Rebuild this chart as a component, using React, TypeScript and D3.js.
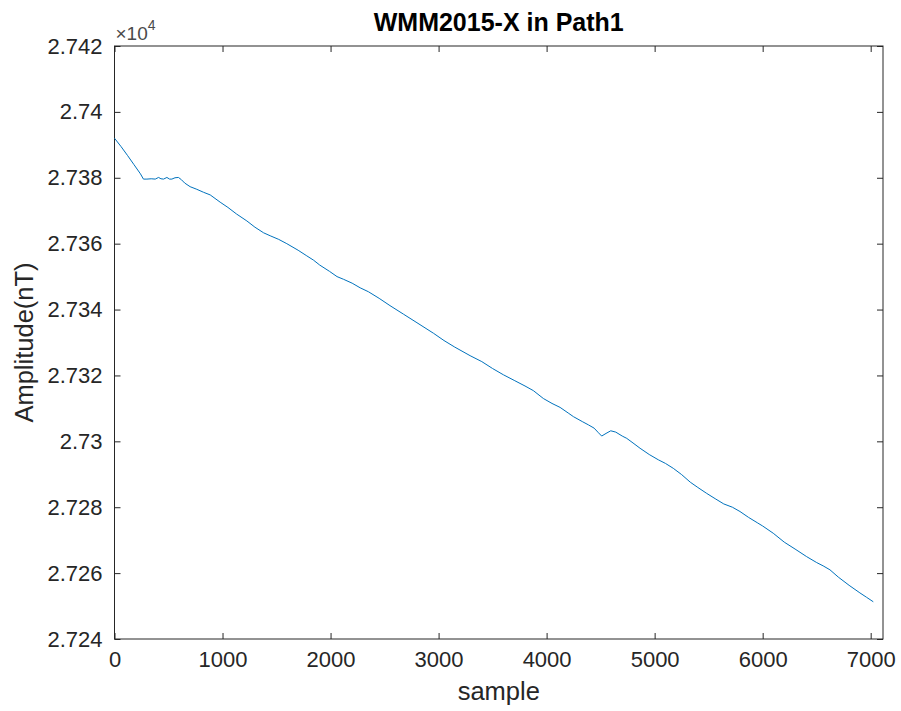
import React, { useEffect, useRef } from "react";
import * as d3 from "d3";

// samples and amplitude (nT)
const samples = [
  0, 60, 120, 180, 240, 268, 300, 340, 377, 408, 430, 454, 485, 510, 531, 560,
  592, 620, 650, 700, 762, 824, 886, 978, 1050, 1130, 1225, 1300, 1380, 1441,
  1520, 1595, 1700, 1780, 1842, 1900, 1990, 2060, 2119, 2200, 2274, 2351, 2450,
  2550, 2675, 2800, 2953, 3050, 3150, 3292, 3400, 3500, 3600, 3700, 3800, 3877,
  3970, 4050, 4125, 4200, 4248, 4330, 4387, 4440, 4480, 4510, 4550, 4594, 4640,
  4700, 4742, 4800, 4865, 4950, 5034, 5100, 5173, 5250, 5330, 5400, 5482, 5560,
  5640, 5720, 5790, 5870, 5950, 6000, 6098, 6200, 6300, 6407, 6500, 6560, 6623,
  6700, 6800, 6900, 6960, 7024,
];
const amplitude = [
  27392.0, 27389.5, 27386.8, 27384.0, 27381.2, 27379.6, 27379.6, 27379.7,
  27379.6, 27380.1, 27379.7, 27379.6, 27380.1, 27379.6, 27379.6, 27380.0,
  27380.1, 27379.4, 27378.4, 27377.3, 27376.5, 27375.6, 27374.8, 27372.6,
  27371.0, 27369.0, 27366.9, 27365.0, 27363.3, 27362.4, 27361.3, 27360.0,
  27358.0, 27356.3, 27355.0, 27353.5, 27351.6, 27350.0, 27349.2, 27348.0,
  27346.6, 27345.4, 27343.4, 27341.2, 27338.6, 27336.0, 27332.8, 27330.6,
  27328.6, 27326.0, 27324.2, 27322.1, 27320.2, 27318.5, 27316.8, 27315.4,
  27313.0, 27311.5, 27310.3, 27308.6, 27307.5, 27306.0, 27305.0, 27304.0,
  27302.6, 27301.6, 27302.4, 27303.2, 27302.8, 27301.6, 27300.9, 27299.5,
  27297.9, 27296.0, 27294.4, 27293.3, 27291.8, 27289.9, 27287.6, 27286.0,
  27284.2, 27282.6, 27281.0, 27280.0, 27278.7, 27276.9, 27275.3, 27274.3,
  27272.1, 27269.4, 27267.3, 27265.0, 27263.2, 27262.2, 27261.0, 27258.8,
  27256.3, 27254.0, 27252.7, 27251.3,
];
const xTicks = [0, 1000, 2000, 3000, 4000, 5000, 6000, 7000];
const yTicks = [27240, 27260, 27280, 27300, 27320, 27340, 27360, 27380, 27400, 27420];
const xDomain = [0, 7114];
const yDomain = [27240, 27420];

const App = () => {
  const ref = useRef<SVGSVGElement>(null);

  useEffect(() => {
    const left = 114.5, right = 883, top = 46, bottom = 639;
    const ink = "#262626";
    const font = "'Liberation Sans', Arial, Helvetica, sans-serif";

    const svg = d3.select(ref.current);
    svg.selectAll("*").remove();

    const x = d3.scaleLinear().domain(xDomain).range([left, right]);
    const y = d3.scaleLinear().domain(yDomain).range([bottom, top]);

    const fmtY = (d) => `${+(d / 10000).toFixed(4)}`;

    // inward ticks on all four sides, MATLAB style
    const axes = [
      { ax: d3.axisBottom(x).tickValues(xTicks).tickFormat((d) => `${d}`), t: `translate(0,${bottom})` },
      { ax: d3.axisTop(x).tickValues(xTicks).tickFormat(() => ""), t: `translate(0,${top})` },
      { ax: d3.axisLeft(y).tickValues(yTicks).tickFormat(fmtY), t: `translate(${left},0)` },
      { ax: d3.axisRight(y).tickValues(yTicks).tickFormat(() => ""), t: `translate(${right},0)` },
    ];
    axes.forEach(({ ax, t }) => {
      const g = svg
        .append("g")
        .attr("transform", t)
        .call(ax.tickSize(-6).tickPadding(12).tickSizeOuter(0));
      g.select(".domain").remove();
      g.selectAll("line").attr("stroke", ink);
      g.selectAll("text")
        .attr("fill", ink)
        .attr("font-family", font)
        .attr("font-size", 22);
    });

    svg
      .append("rect")
      .attr("x", left)
      .attr("y", top)
      .attr("width", right - left)
      .attr("height", bottom - top)
      .attr("fill", "none")
      .attr("stroke", ink)
      .attr("stroke-width", 1);

    const line = d3
      .line<number>()
      .x((d, i) => x(samples[i]))
      .y((d) => y(d));

    svg
      .append("path")
      .datum(amplitude)
      .attr("d", line)
      .attr("fill", "none")
      .attr("stroke", "#0072BD")
      .attr("stroke-width", 1);

    // exponent label
    const exp = svg
      .append("text")
      .attr("x", left + 1)
      .attr("y", 40)
      .attr("font-family", font)
      .attr("fill", "#4a4a4a")
      .style("font-size", "19px");
    exp.append("tspan").text("×10");
    exp.append("tspan").style("font-size", "14px").attr("dy", -10).text("4");

    svg
      .append("text")
      .attr("x", (left + right) / 2)
      .attr("y", 31)
      .attr("text-anchor", "middle")
      .attr("font-family", font)
      .attr("font-weight", "bold")
      .attr("font-size", 25)
      .attr("fill", "#000")
      .text("WMM2015-X in Path1");

    svg
      .append("text")
      .attr("x", (left + right) / 2)
      .attr("y", 700)
      .attr("text-anchor", "middle")
      .attr("font-family", font)
      .attr("font-size", 25.5)
      .attr("fill", ink)
      .text("sample");

    svg
      .append("text")
      .attr("transform", `translate(33,${(top + bottom) / 2}) rotate(-90)`)
      .attr("text-anchor", "middle")
      .attr("font-family", font)
      .attr("font-size", 25.5)
      .attr("fill", ink)
      .text("Amplitude(nT)");
  }, []);

  return (
    <svg
      ref={ref}
      width={901}
      height={711}
      style={{ position: "absolute", left: 0, top: 0, background: "#fff" }}
    />
  );
};

export default App;
